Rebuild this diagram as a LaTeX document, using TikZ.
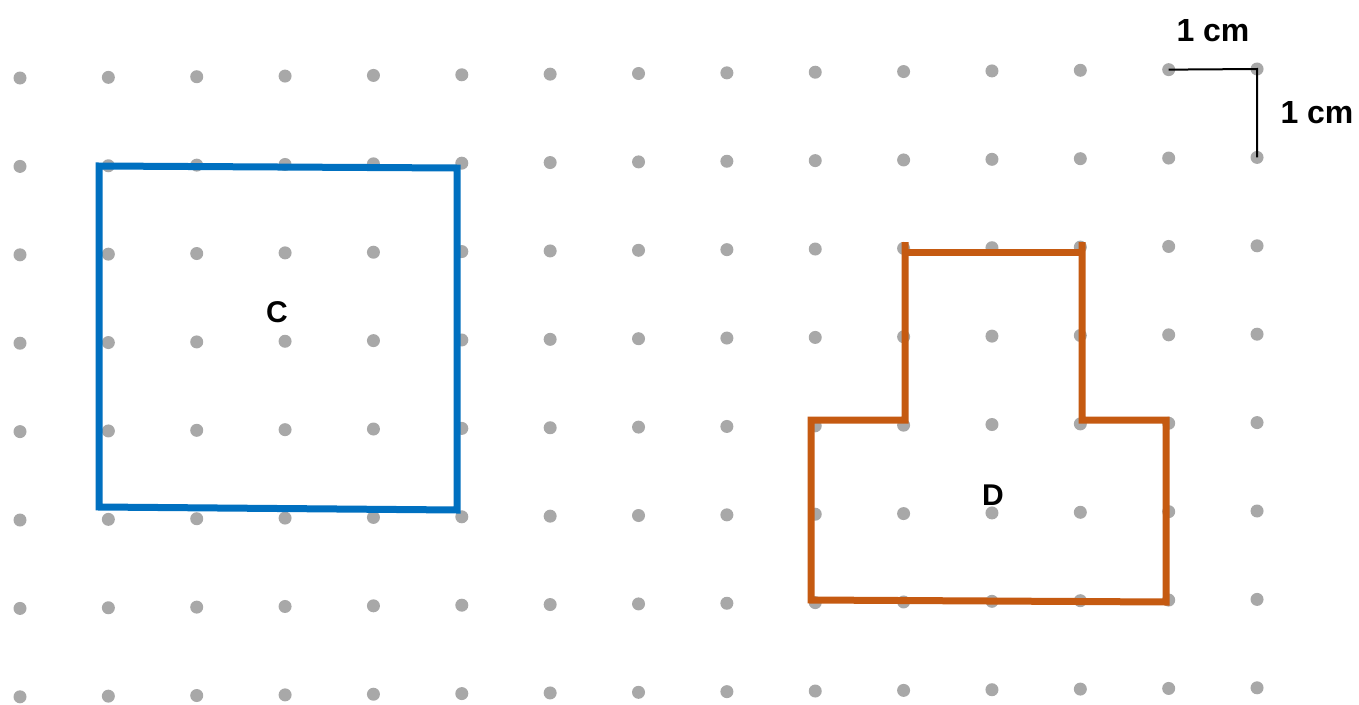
\documentclass[tikz,border=0pt]{standalone}
\usepackage{fontspec}
\setmainfont{Liberation Sans}
\definecolor{dotgray}{RGB}{168,168,168}
\definecolor{shapeblue}{RGB}{0,112,192}
\definecolor{shapeorange}{RGB}{197,90,17}
\begin{document}
\begin{tikzpicture}[x=1pt,y=-1pt,
  blueline/.style={draw=shapeblue,line width=7pt,line join=miter},
  orangeline/.style={draw=shapeorange,line width=7pt,line join=miter},
  lbl/.style={inner sep=0pt,font=\fontsize{30}{36}\selectfont\bfseries},
  scalelbl/.style={inner sep=0pt,font=\fontsize{32}{38}\selectfont\bfseries},
  scalebar/.style={draw=black,line width=2pt}]
\useasboundingbox (0,0) rectangle (1359,704);
\fill[white] (0,0) rectangle (1359,704);
% dot grid
\foreach \i in {0,...,14} {
  \foreach \j in {0,...,7} {
    \coordinate (d-\i-\j) at ({20+88.36*\i},{78+88.4*\j-0.643*\i});
    \fill[dotgray] (d-\i-\j) circle (6.5pt);
  }
}
% shape C
\draw[blueline] (99,166) -- (457,168) -- (457,510) -- (99,507) -- cycle;
\node[lbl] (C) at (277,312) {C};
% shape D
\draw[orangeline] (905,242) -- (905,420) -- (811,420) -- (811,600) -- (1166,602) -- (1166,420) -- (1082,420) -- (1082,242);
\draw[orangeline] (905,252) -- (1082,252);
\node[lbl] (D) at (993,495) {D};
% scale
\draw[scalebar] (d-13-0) -- (d-14-0) -- (d-14-1);
\node[scalelbl] (hlab) at (1213,31) {1 cm};
\node[scalelbl] (vlab) at (1317,113) {1 cm};
\end{tikzpicture}
\end{document}
